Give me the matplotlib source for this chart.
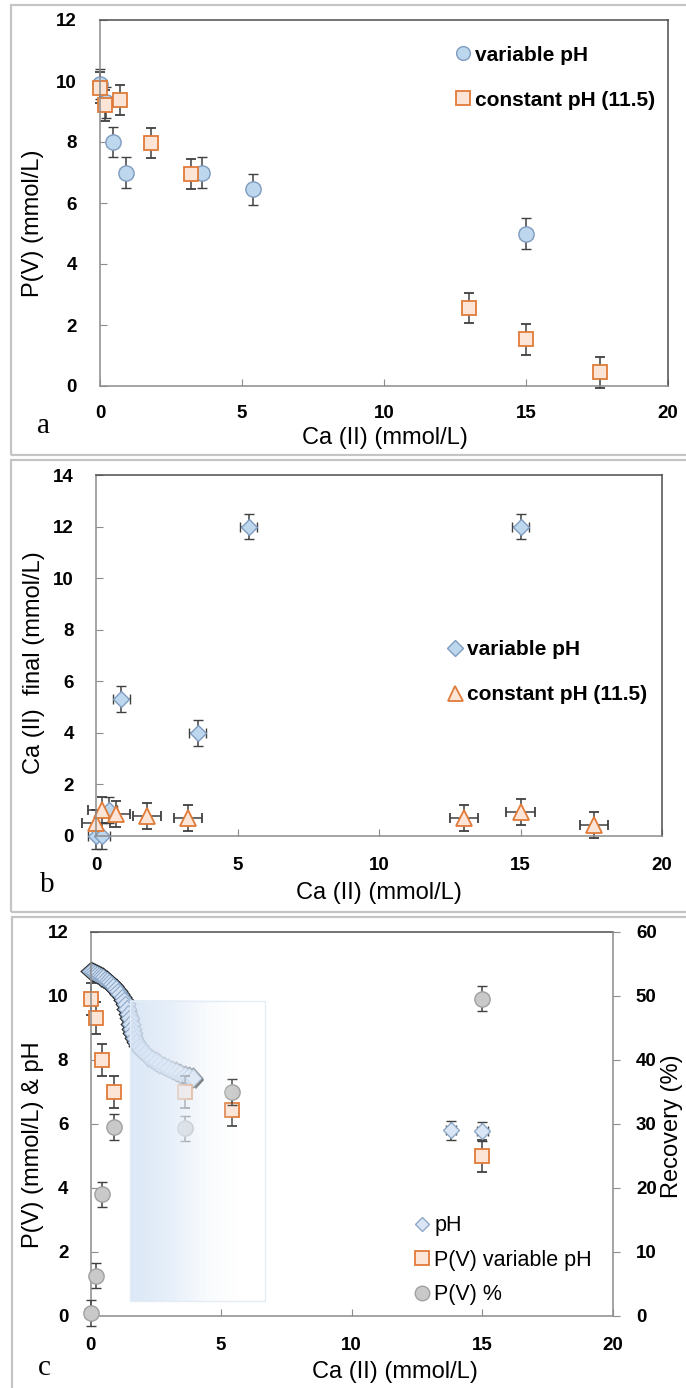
import numpy as np
import matplotlib.pyplot as plt
import matplotlib.patheffects as pe
from matplotlib.patches import Rectangle

plt.rcParams['font.family'] = ['Liberation Sans', 'DejaVu Sans']

# (a) residual P(V) against Ca(II) added
ca_var = [0, 0.2, 0.45, 0.9, 3.6, 5.4, 15]
pv_var = [9.9, 9.3, 8.0, 7.0, 7.0, 6.45, 5.0]
ca_const = [0, 0.18, 0.7, 1.8, 3.2, 13.0, 15.0, 17.6]
pv_const = [9.78, 9.2, 9.37, 7.97, 6.95, 2.55, 1.53, 0.45]

# (b) final Ca(II) in solution
cafin_var = [0, 0, 1.0, 5.3, 4.0, 12.0, 12.0]
ca_const_b = [0, 0.2, 0.7, 1.8, 3.25, 13.0, 15.0, 17.6]
cafin_const = [0.49, 1.0, 0.84, 0.78, 0.71, 0.69, 0.94, 0.43]

# (c) pH titration curve, P(V) and recovery
ph_curve_ca = [0.00, 0.08, 0.16, 0.24, 0.32, 0.40, 0.48, 0.56, 0.64, 0.72,
               0.80, 0.88, 0.96, 1.04, 1.12, 1.20, 1.27, 1.33, 1.39, 1.44,
               1.48, 1.52, 1.56, 1.60, 1.66, 1.74, 1.84, 1.95, 2.07, 2.20,
               2.34, 2.49, 2.64, 2.80, 2.96, 3.12, 3.28, 3.44, 3.60, 3.76, 3.92]
ph_curve = [10.78, 10.75, 10.72, 10.69, 10.66, 10.62, 10.58, 10.53, 10.48, 10.43,
            10.37, 10.30, 10.23, 10.15, 10.07, 9.97, 9.86, 9.74, 9.60, 9.45,
            9.30, 9.14, 8.98, 8.83, 8.68, 8.55, 8.43, 8.32, 8.22, 8.12,
            8.03, 7.95, 7.88, 7.81, 7.75, 7.69, 7.63, 7.58, 7.53, 7.49, 7.45]
ph_ca = [13.8, 15.0]
ph_end = [5.8, 5.77]
recovery = [0.5, 6.3, 19.0, 29.5, 29.3, 35.0, 49.6]

W, H = 686, 1388
fig = plt.figure(figsize=(W / 100, H / 100), dpi=100)


def px_axes(left, top, right, bottom):
    return fig.add_axes([left / W, 1 - bottom / H, (right - left) / W, (bottom - top) / H])


# grey frames round each panel
for (l, t, b) in [(11, 4.5, 455), (11, 460, 912), (12, 917, 1400)]:
    fig.patches.append(Rectangle((l / W, 1 - b / H), (700 - l) / W, (b - t) / H,
                                 transform=fig.transFigure, fill=False,
                                 edgecolor='#c4c4c4', linewidth=1.6, clip_on=False))

BLUE, BLUE_E = '#bdd7ee', '#7f9cc0'
PEACH, ORANGE = '#fce4d6', '#e07b39'
GREY, GREY_E = '#c9c9c9', '#a0a0a0'
eb = dict(ecolor='#404040', elinewidth=1.1, capsize=3.5, capthick=1.1,
          linestyle='none', clip_on=False)


def style(ax, ymax, ystep, xpad, ypad, right=True):
    ax.set_xlim(0, 20)
    ax.set_ylim(0, ymax)
    ax.set_xticks(range(0, 21, 5))
    ax.set_yticks(np.arange(0, ymax + 0.1, ystep))
    ax.tick_params(direction='in', length=5, color='#8c8c8c', labelsize=13.5)
    ax.tick_params(axis='x', pad=xpad)
    ax.tick_params(axis='y', pad=ypad)
    plt.setp(ax.get_xticklabels() + ax.get_yticklabels(), fontweight='bold')
    ax.spines['left'].set_color('#8c8c8c')
    ax.spines['bottom'].set_color('#8c8c8c')
    ax.spines['top'].set_color('#4d4d4d')
    ax.spines['right'].set_color('#4d4d4d')
    ax.spines['right'].set_visible(right)
    for s in ax.spines.values():
        s.set_linewidth(1.1)


def letter(x, y, s):
    fig.text(x / W, 1 - y / H, s, fontsize=21, ha='center', va='baseline',
             family=['Liberation Serif', 'DejaVu Serif'])


# ---- panel a ----
ax = px_axes(100, 20, 668, 386)
h1 = ax.errorbar(ca_var, pv_var, xerr=0.2, yerr=0.5, marker='o', ms=11,
                 mfc=BLUE, mec=BLUE_E, mew=1, **eb)
h2 = ax.errorbar(ca_const, pv_const, xerr=0.15, yerr=0.5, marker='s', ms=10.5,
                 mfc=PEACH, mec=ORANGE, mew=1.3, **eb)
style(ax, 12, 2, 13.5, 16.5)
ax.set_xlabel('Ca (II) (mmol/L)', fontsize=17, va='center')
ax.xaxis.set_label_coords(0.501, -0.142)
ax.set_ylabel('P(V) (mmol/L)', fontsize=17, va='center')
ax.yaxis.set_label_coords(-0.118, 0.445)
ax.legend([h1[0], h2[0]], ['variable pH', 'constant pH (11.5)'], loc='upper left',
          bbox_to_anchor=(0.625, 0.93), frameon=False, handlelength=0.75,
          handletextpad=0.22, borderpad=0, borderaxespad=0, labelspacing=1.25,
          markerscale=0.9, prop=dict(weight='bold', size=15))
letter(43, 433, 'a')

# ---- panel b ----
ax = px_axes(96, 475, 662, 836)
h1 = ax.errorbar(ca_var, cafin_var, xerr=0.3, yerr=0.5, marker='D', ms=8.5,
                 mfc=BLUE, mec=BLUE_E, mew=1, **eb)
h2 = ax.errorbar(ca_const_b, cafin_const, xerr=0.5, yerr=0.5, marker='^', ms=12,
                 mfc=PEACH, mec=ORANGE, mew=1.3, **eb)
style(ax, 14, 2, 15, 16)
ax.set_xlabel('Ca (II) (mmol/L)', fontsize=17, va='center')
ax.xaxis.set_label_coords(0.5, -0.158)
ax.set_ylabel('Ca (II)  final (mmol/L)', fontsize=17, va='center')
ax.yaxis.set_label_coords(-0.11, 0.479)
ax.legend([h1[0], h2[0]], ['variable pH', 'constant pH (11.5)'], loc='upper left',
          bbox_to_anchor=(0.62, 0.542), frameon=False, handlelength=0.75,
          handletextpad=0.22, borderpad=0, borderaxespad=0, labelspacing=1.25,
          markerscale=0.9, prop=dict(weight='bold', size=15))
letter(47, 892, 'b')

# ---- panel c ----
ax = px_axes(90.5, 932, 613, 1316)
ax.plot(ph_curve_ca, ph_curve, linestyle='none', marker='D', ms=8.5,
        mfc='#d4e2f3', mec='#8ea9c8', mew=0.8, clip_on=False,
        path_effects=[pe.SimplePatchShadow(offset=(2, -2), shadow_rgbFace='k', alpha=0.9),
                      pe.Stroke(linewidth=2.2, foreground='#262626'), pe.Normal()])
h1 = ax.errorbar(ph_ca, ph_end, xerr=0.2, yerr=0.3, marker='D', ms=8,
                 mfc='#dae6f5', mec='#8ea9c8', mew=1, **eb)
h2 = ax.errorbar(ca_var, pv_var, xerr=0.15, yerr=0.5, marker='s', ms=10.5,
                 mfc=PEACH, mec=ORANGE, mew=1.3, **eb)
style(ax, 12, 2, 15, 16, right=False)
ax.set_xlabel('Ca (II) (mmol/L)', fontsize=17, va='center')
ax.xaxis.set_label_coords(0.583, -0.145)
ax.set_ylabel('P(V) (mmol/L) & pH', fontsize=17, va='center')
ax.yaxis.set_label_coords(-0.11, 0.445)

ax2 = ax.twinx()
h3 = ax2.errorbar(ca_var, recovery, xerr=0.2, yerr=2, marker='o', ms=11,
                  mfc=GREY, mec=GREY_E, mew=1, **eb)

# shaded highlight over the buffering region
f = np.linspace(0, 1, 256)
blue = np.array([0.839, 0.894, 0.963])
grad = np.ones((2, 256, 4))
grad[..., :3] = blue + (1 - blue) * f[:, None]
grad[..., 3] = np.clip(0.85 * (0.8 - f) / 0.5, 0, 0.85)
ax2.imshow(grad, extent=[1.5, 6.67, 2.35, 49.25], aspect='auto',
           interpolation='bilinear', zorder=5)
ax2.add_patch(Rectangle((1.5, 2.35), 5.17, 46.9, fill=False,
                        edgecolor='#e4ecf6', linewidth=1, zorder=5.1))

ax2.set_xlim(0, 20)
ax2.set_ylim(0, 60)
ax2.set_yticks(range(0, 61, 10))
ax2.tick_params(axis='y', direction='out', length=5, color='#8c8c8c',
                labelsize=13.5, pad=11.5)
plt.setp(ax2.get_yticklabels(), fontweight='bold')
for k in ('top', 'left', 'bottom'):
    ax2.spines[k].set_visible(False)
ax2.spines['right'].set_color('#8c8c8c')
ax2.spines['right'].set_linewidth(1.1)
ax2.set_ylabel('Recovery (%)', fontsize=17, va='center')
ax2.yaxis.set_label_coords(1.112, 0.495)
ax2.legend([h1[0], h2[0], h3[0]], ['pH', 'P(V) variable pH', 'P(V) %'],
           loc='upper left', bbox_to_anchor=(0.619, 0.262), frameon=False,
           handlelength=0.75, handletextpad=0.2, borderpad=0, borderaxespad=0,
           labelspacing=0.62, markerscale=0.95, prop=dict(size=15.5))
letter(44, 1375, 'c')

fig.savefig('out.png', dpi=100)
